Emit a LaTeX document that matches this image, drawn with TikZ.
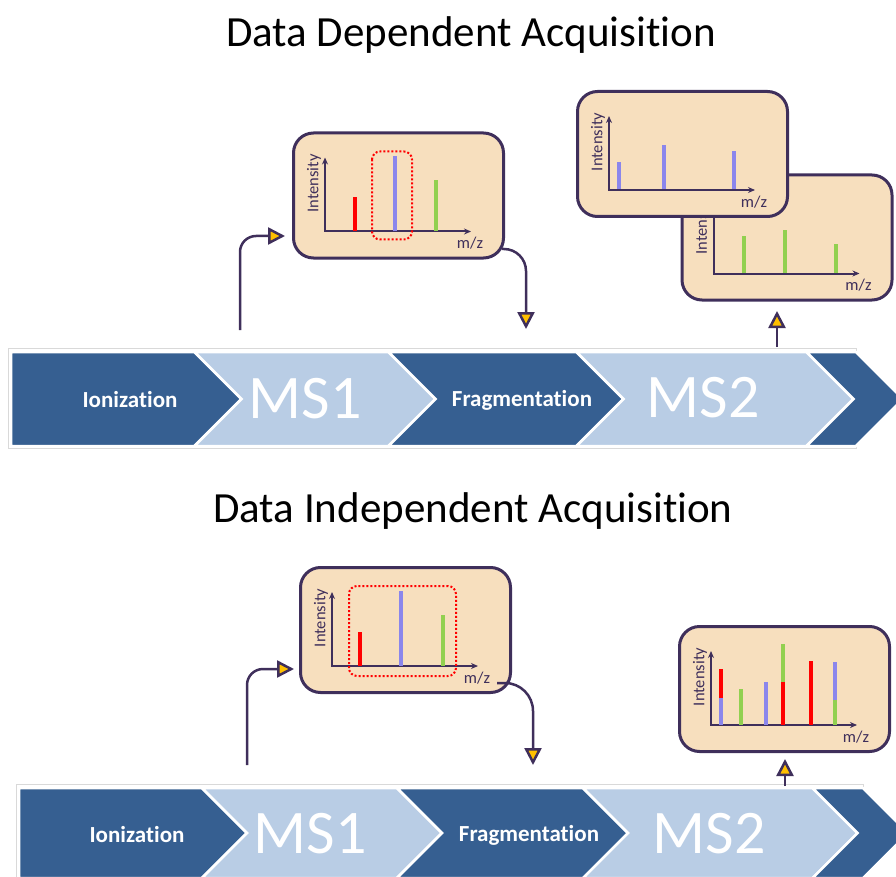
\documentclass[tikz,border=0pt]{standalone}
\usepackage{fontspec}
\setmainfont{Carlito}[Ligatures={NoCommon}]
\usepackage{tikz}
\usetikzlibrary{arrows.meta,calc}
\definecolor{chevdark}{HTML}{365F91}
\definecolor{chevlight}{HTML}{B9CDE5}
\definecolor{panelfill}{HTML}{F7DFBE}
\definecolor{purp}{HTML}{3F2F5B}
\definecolor{gold}{HTML}{FFC000}
\definecolor{barred}{HTML}{FF0000}
\definecolor{barblue}{HTML}{8B86EC}
\definecolor{bargreen}{HTML}{92D050}
% chevron with a notch: left x, right x, top y, half height, colour
\newcommand{\chevron}[5]{
  \filldraw[fill=#5,draw=white,line width=2.5pt]
    (#1,#3) -- (#2,#3) -- ({#2+#4},{#3+#4}) -- (#2,{#3+2*#4})
    -- (#1,{#3+2*#4}) -- ({#1+#4},{#3+#4}) -- cycle;
}
% axes and labels of one spectrum panel
\newcommand{\specaxes}[1]{
  \begin{scope}[shift={(#1.north west)}]
    \draw[axis] (33,26) -- (33,100) -- (179,100);
    \node[axlbl,rotate=90] (#1int) at (22,52) {Intensity};
    \node[axlbl] (#1mz) at (178,112) {m/z};
  \end{scope}
}

\begin{document}
\begin{tikzpicture}[x=1pt,y=-1pt]
\tikzstyle{panel}=[draw=purp,fill=panelfill,line width=3pt,rounded corners=20pt,
  minimum width=210pt,minimum height=125pt,inner sep=0pt]
\tikzstyle{axis}=[draw=purp,line width=2pt,{Stealth[length=7pt,width=6pt]}-{Stealth[length=7pt,width=6pt]}]
\tikzstyle{axlbl}=[text=purp,font=\fontsize{16.5}{18}\selectfont,inner sep=0pt]
\tikzstyle{peak}=[line width=4pt]
\tikzstyle{pick}=[draw=barred,line width=2pt,dash pattern=on 2pt off 2pt,rounded corners=8pt]
\tikzstyle{flow}=[draw=purp,line width=2.5pt,-{Triangle[length=17pt,width=17pt,fill=gold]}]
\tikzstyle{title}=[font=\fontsize{43}{50}\selectfont,anchor=base]
\tikzstyle{small}=[text=white,font=\bfseries\fontsize{23}{26}\selectfont,anchor=base]
\tikzstyle{big}=[text=white,font=\fontsize{62}{70}\selectfont,anchor=base]

\useasboundingbox (0,0) rectangle (896,877);
\clip (0,0) rectangle (896,877);

% titles
\node[title] (ddatitle) at (471,47) {Data Dependent Acquisition};
\node[title] (diatitle) at (473,522) {Data Independent Acquisition};

% ---- top band ----
\draw[gray!30,line width=1pt] (8,348) rectangle (856,448);
\filldraw[fill=chevdark,draw=white,line width=2.5pt]
  (11,352) -- (194.5,352) -- (241.5,399) -- (194.5,446) -- (11,446) -- cycle;
\foreach \xa/\xb/\col in {194.5/388.5/chevlight,388.5/576.5/chevdark,576.5/806.5/chevlight,806.5/856/chevdark}
  {\chevron{\xa}{\xb}{352}{47}{\col}}
\node[small] (ion1) at (130,407) {Ionization};
\node[big] (ms1a) at (305,418) {MS1};
\node[small] (frag1) at (522,406) {Fragmentation};
\node[big] (ms2a) at (703,417) {MS2};

% ---- bottom band ----
\draw[gray!30,line width=1pt] (16,784) rectangle (863,890);
\filldraw[fill=chevdark,draw=white,line width=2.5pt]
  (19,788) -- (202,788) -- (247,833) -- (202,878) -- (19,878) -- cycle;
\foreach \xa/\xb/\col in {202/397/chevlight,397/583/chevdark,583/812.5/chevlight,812.5/863/chevdark}
  {\chevron{\xa}{\xb}{788}{45}{\col}}
\node[small] (ion2) at (137,842) {Ionization};
\node[big] (ms1b) at (310,853) {MS1};
\node[small] (frag2) at (529,841) {Fragmentation};
\node[big] (ms2b) at (709,853) {MS2};

% ---- DDA panels ----
\node[panel] (p1) at (398.5,195.5) {};
\specaxes{p1}
\begin{scope}[shift={(p1.north west)}]
  \foreach \x/\h/\c in {63/34/barred,103/75/barblue,144/51/bargreen}
    \draw[peak,\c] (\x,100) -- (\x,100-\h);
  \draw[pick] (80,20) rectangle (120,108);
\end{scope}

\node[panel] (p2b) at (787,237.5) {};
\specaxes{p2b}
\begin{scope}[shift={(p2b.north west)}]
  \foreach \x/\h in {63/36,104/42,155/28}
    \draw[peak,bargreen] (\x,99) -- (\x,99-\h);
\end{scope}
\node[panel] (p2) at (682.5,154) {};
\specaxes{p2}
\begin{scope}[shift={(p2.north west)}]
  \foreach \x/\h in {43/27,88/44,158/38}
    \draw[peak,barblue] (\x,99) -- (\x,99-\h);
\end{scope}

% connectors, top
\coordinate (in1) at (240,330);
\coordinate (tip1) at (285,236);
\draw[flow,rounded corners=16pt] (in1) |- (tip1);
\coordinate (out1) at (502,249);
\coordinate (tip2) at (526,329);
\draw[flow,rounded corners=22pt] (out1) -| (tip2);
\coordinate (up1) at (777,347);
\coordinate (tip3) at (777,311);
\draw[flow] (up1) -- (tip3);

% ---- DIA panels ----
\node[panel] (p3) at (405.5,630) {};
\specaxes{p3}
\begin{scope}[shift={(p3.north west)}]
  \foreach \x/\h/\c in {61/34/barred,102/75/barblue,144/51/bargreen}
    \draw[peak,\c] (\x,100) -- (\x,100-\h);
  \draw[pick] (50,20) rectangle (157,110);
\end{scope}

\node[panel] (p4) at (784.5,689) {};
\specaxes{p4}
\begin{scope}[shift={(p4.north west)}]
  % mixed fragments, bottom part first
  \foreach \x/\ha/\hb/\ca/\cb in {43/0/27/barblue/barred,63/0/36/bargreen/bargreen,
      88/0/43/barblue/barblue,105/0/43/barred/bargreen,133/0/64/barred/barred,157/0/25/bargreen/barblue}
    \draw[peak,\ca] (\x,100-\ha) -- (\x,100-\hb);
  \foreach \x/\ha/\hb/\c in {43/27/56/barred,105/43/81/bargreen,157/25/63/barblue}
    \draw[peak,\c] (\x,100-\ha) -- (\x,100-\hb);
\end{scope}

% connectors, bottom
\coordinate (in2) at (247,765);
\coordinate (tip4) at (294,669);
\draw[flow,rounded corners=16pt] (in2) |- (tip4);
\coordinate (out2) at (497,683);
\coordinate (tip5) at (533,765);
\draw[flow,rounded corners=28pt] (out2) -| (tip5);
\coordinate (up2) at (785,786);
\coordinate (tip6) at (785,759);
\draw[flow] (up2) -- (tip6);
\end{tikzpicture}
\end{document}
